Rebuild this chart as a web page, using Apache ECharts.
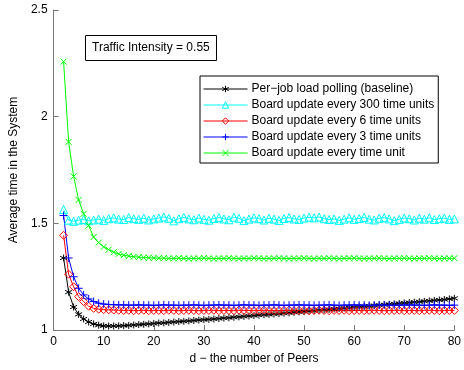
<!DOCTYPE html>
<html>
<head>
<meta charset="utf-8">
<script src="https://cdn.jsdelivr.net/npm/echarts@6/dist/echarts.min.js"></script>
<style>
  html, body { margin: 0; padding: 0; background: #fff; }
  #chart { width: 464px; height: 370px; }
</style>
</head>
<body>
<div id="chart"></div>
<script>
// number of peers d
const peers = [2, 3, 4, 5, 6, 7, 8, 9, 10, 11, 12, 13, 14, 15, 16, 17, 18, 19, 20, 21,
  22, 23, 24, 25, 26, 27, 28, 29, 30, 31, 32, 33, 34, 35, 36, 37, 38, 39, 40, 41,
  42, 43, 44, 45, 46, 47, 48, 49, 50, 51, 52, 53, 54, 55, 56, 57, 58, 59, 60, 61,
  62, 63, 64, 65, 66, 67, 68, 69, 70, 71, 72, 73, 74, 75, 76, 77, 78, 79, 80];

const baseline = [1.338, 1.178, 1.108, 1.074, 1.052, 1.038, 1.029, 1.023, 1.020, 1.019,
  1.019, 1.020, 1.021, 1.022, 1.024, 1.026, 1.027, 1.029, 1.031, 1.033,
  1.034, 1.036, 1.038, 1.040, 1.041, 1.043, 1.045, 1.047, 1.049, 1.050,
  1.052, 1.054, 1.056, 1.058, 1.060, 1.062, 1.064, 1.066, 1.068, 1.070,
  1.072, 1.073, 1.075, 1.077, 1.079, 1.081, 1.083, 1.085, 1.087, 1.089,
  1.091, 1.093, 1.095, 1.097, 1.099, 1.101, 1.103, 1.105, 1.107, 1.109,
  1.111, 1.113, 1.115, 1.117, 1.119, 1.121, 1.123, 1.125, 1.127, 1.129,
  1.131, 1.133, 1.135, 1.137, 1.139, 1.141, 1.143, 1.146, 1.149];

const every300 = [1.565, 1.515, 1.510, 1.515, 1.518, 1.512, 1.516, 1.520, 1.514, 1.522,
  1.526, 1.520, 1.518, 1.527, 1.522, 1.519, 1.524, 1.516, 1.521, 1.525,
  1.530, 1.524, 1.512, 1.522, 1.528, 1.521, 1.517, 1.525, 1.519, 1.515,
  1.523, 1.527, 1.521, 1.517, 1.529, 1.524, 1.513, 1.520, 1.526, 1.522,
  1.516, 1.524, 1.520, 1.514, 1.523, 1.527, 1.521, 1.519, 1.525, 1.529,
  1.526, 1.530, 1.522, 1.518, 1.521, 1.514, 1.520, 1.526, 1.519, 1.523,
  1.528, 1.520, 1.516, 1.524, 1.527, 1.521, 1.513, 1.519, 1.525, 1.522,
  1.516, 1.524, 1.520, 1.526, 1.518, 1.522, 1.525, 1.519, 1.521];

const every6 = [1.444, 1.262, 1.203, 1.157, 1.134, 1.112, 1.102, 1.098, 1.096, 1.095,
  1.094, 1.093, 1.092, 1.093, 1.091, 1.092, 1.093, 1.091, 1.092, 1.092,
  1.091, 1.093, 1.092, 1.091, 1.092, 1.093, 1.092, 1.091, 1.092, 1.092,
  1.093, 1.091, 1.092, 1.092, 1.091, 1.093, 1.092, 1.092, 1.091, 1.092,
  1.093, 1.092, 1.091, 1.092, 1.092, 1.093, 1.091, 1.092, 1.092, 1.091,
  1.092, 1.093, 1.092, 1.091, 1.092, 1.092, 1.093, 1.091, 1.092, 1.092,
  1.091, 1.092, 1.093, 1.092, 1.091, 1.092, 1.092, 1.093, 1.091, 1.092,
  1.092, 1.091, 1.092, 1.093, 1.092, 1.091, 1.092, 1.092, 1.092];

const every3 = [1.537, 1.338, 1.250, 1.196, 1.165, 1.146, 1.134, 1.126, 1.122, 1.120,
  1.119, 1.118, 1.118, 1.117, 1.117, 1.118, 1.117, 1.117, 1.116, 1.117,
  1.118, 1.117, 1.117, 1.116, 1.117, 1.117, 1.118, 1.117, 1.116, 1.117,
  1.117, 1.118, 1.117, 1.117, 1.116, 1.117, 1.118, 1.117, 1.117, 1.116,
  1.117, 1.117, 1.118, 1.117, 1.116, 1.117, 1.117, 1.118, 1.117, 1.117,
  1.116, 1.117, 1.117, 1.118, 1.117, 1.116, 1.117, 1.117, 1.118, 1.117,
  1.117, 1.116, 1.117, 1.118, 1.117, 1.117, 1.116, 1.117, 1.117, 1.118,
  1.117, 1.117, 1.116, 1.117, 1.118, 1.117, 1.117, 1.116, 1.117];

const everyUnit = [2.258, 1.882, 1.720, 1.610, 1.545, 1.490, 1.436, 1.410, 1.390, 1.377,
  1.365, 1.357, 1.351, 1.347, 1.344, 1.342, 1.340, 1.339, 1.338, 1.337,
  1.337, 1.336, 1.336, 1.337, 1.336, 1.335, 1.336, 1.336, 1.337, 1.336,
  1.335, 1.336, 1.336, 1.337, 1.336, 1.335, 1.336, 1.336, 1.337, 1.336,
  1.335, 1.336, 1.336, 1.337, 1.336, 1.335, 1.336, 1.336, 1.337, 1.336,
  1.335, 1.336, 1.336, 1.337, 1.336, 1.335, 1.336, 1.336, 1.337, 1.336,
  1.335, 1.336, 1.336, 1.337, 1.336, 1.335, 1.336, 1.336, 1.337, 1.336,
  1.335, 1.336, 1.336, 1.337, 1.336, 1.335, 1.336, 1.336, 1.337];

const seriesNames = [
  'Per\u2212job load polling (baseline)',
  'Board update every 300 time units',
  'Board update every 6 time units',
  'Board update every 3 time units',
  'Board update every time unit'
];

const yTicks = [1, 1.5, 2, 2.5];
const xTicks = [0, 10, 20, 30, 40, 50, 60, 70, 80];

// matlab style markers
const starPath = 'path://M0,-1L0,1M-0.866,-0.5L0.866,0.5M-0.866,0.5L0.866,-0.5';
const plusPath = 'path://M0,-1L0,1M-1,0L1,0';
const crossPath = 'path://M-1,-1L1,1M-1,1L1,-1';

const font = 'Liberation Sans, Arial, Helvetica, sans-serif';

const makeSeries = (name, values, color, symbol, size) => ({
  name: name,
  type: 'line',
  data: peers.map((d, i) => [d, values[i]]),
  symbol: symbol,
  symbolSize: size,
  showAllSymbol: true,
  lineStyle: { color: color, width: 1 },
  itemStyle: { color: 'none', borderColor: color, borderWidth: 1 },
  emphasis: { disabled: true },
  animation: false
});

const chart = echarts.init(document.getElementById('chart'), null, { renderer: 'canvas' });

chart.setOption({
  backgroundColor: '#fff',
  animation: false,
  textStyle: { fontFamily: font },
  title: {
    text: 'Traffic Intensity = 0.55',
    left: 85,
    top: 35,
    padding: [7, 7, 7, 7],
    borderColor: '#000',
    borderWidth: 1,
    backgroundColor: '#fff',
    textStyle: { fontSize: 12, fontWeight: 'normal', color: '#000', fontFamily: font }
  },
  legend: {
    orient: 'vertical',
    left: 200,
    top: 76,
    padding: [6, 4, 3, 3],
    itemGap: 2,
    itemWidth: 44,
    itemHeight: 8,
    borderColor: '#000',
    borderWidth: 1,
    backgroundColor: '#fff',
    borderRadius: 0,
    itemStyle: { color: 'none', borderWidth: 1 },
    lineStyle: { width: 1 },
    textStyle: { fontSize: 12, color: '#000', fontFamily: font, lineHeight: 14, padding: [0, 0, 0, -1] },
    data: seriesNames
  },
  grid: { left: 50, top: 10, right: 4, bottom: 38, containLabel: false },
  xAxis: {
    type: 'value',
    min: xTicks[0],
    max: xTicks[xTicks.length - 1],
    interval: 10,
    name: 'd \u2212 the number of Peers',
    nameLocation: 'middle',
    nameGap: 21,
    nameTextStyle: { fontSize: 12, color: '#000', fontFamily: font },
    axisLine: { lineStyle: { color: '#777', width: 1 } },
    axisTick: { inside: true, length: 5, lineStyle: { color: '#777' } },
    axisLabel: { fontSize: 12, color: '#000', margin: 6, fontFamily: font, alignMaxLabel: 'center' },
    splitLine: { show: false }
  },
  yAxis: {
    type: 'value',
    min: yTicks[0],
    max: yTicks[yTicks.length - 1],
    interval: 0.5,
    name: 'Average time in the System',
    nameLocation: 'middle',
    nameGap: 31,
    nameTextStyle: { fontSize: 12, color: '#000', fontFamily: font },
    axisLine: { show: true, lineStyle: { color: '#777', width: 1 } },
    axisTick: { show: true, inside: true, length: 5, lineStyle: { color: '#777' } },
    axisLabel: { fontSize: 12, color: '#000', margin: 6, fontFamily: font },
    splitLine: { show: false }
  },
  series: [
    makeSeries(seriesNames[0], baseline, '#000000', starPath, 7),
    makeSeries(seriesNames[1], every300, '#00ffff', 'triangle', 8),
    makeSeries(seriesNames[2], every6, '#ff0000', 'diamond', 8),
    makeSeries(seriesNames[3], every3, '#0000ff', plusPath, 8),
    makeSeries(seriesNames[4], everyUnit, '#00ff00', crossPath, 6)
  ]
});
</script>
</body>
</html>
